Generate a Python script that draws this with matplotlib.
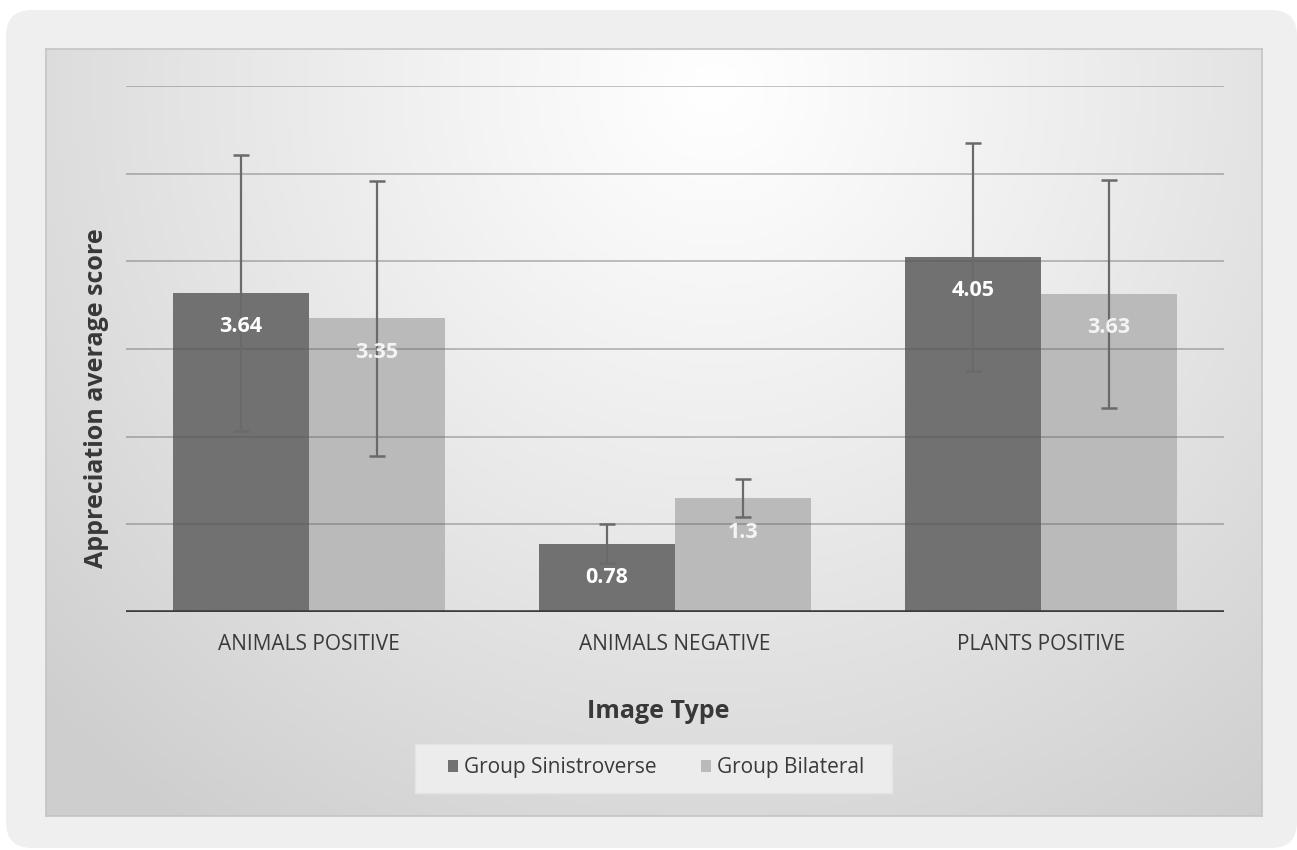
import numpy as np
import matplotlib
matplotlib.use("Agg")
import matplotlib.pyplot as plt
from matplotlib.patches import FancyBboxPatch, Rectangle

plt.rcParams['font.family'] = ['Open Sans', 'DejaVu Sans']

categories = ["ANIMALS POSITIVE", "ANIMALS NEGATIVE", "PLANTS POSITIVE"]
series_names = ["Group Sinistroverse", "Group Bilateral"]
sinistroverse = [3.64, 0.78, 4.05]
bilateral = [3.35, 1.30, 3.63]
err_sinistroverse = [1.57, 0.22, 1.30]
err_bilateral = [1.57, 0.22, 1.30]
value_labels_sin = ["3.64", "0.78", "4.05"]
value_labels_bil = ["3.35", "1.3", "3.63"]

W, H = 1297, 850
fig = plt.figure(figsize=(W / 100, H / 100), dpi=100)
fig.patch.set_facecolor('white')

def fx(px):
    return px / W

def fy(py):
    return 1 - py / H

# outer rounded background
bg = FancyBboxPatch((fx(6), fy(848)), fx(1297 - 6), (848 - 10) / H,
                    boxstyle="round,pad=0,rounding_size=0.02",
                    transform=fig.transFigure, facecolor='#efefef',
                    edgecolor='none', zorder=0, mutation_aspect=W / H)
fig.patches.append(bg)

# gradient panel
pl, pt, pr, pb = 46, 49, 1262, 816
pax = fig.add_axes([fx(pl), fy(pb), fx(pr - pl), (pb - pt) / H])
pax.set_zorder(1)
ny, nx = 200, 300
yy, xx = np.mgrid[0:ny, 0:nx]
u = xx / (nx - 1) * (pr - pl)
v = yy / (ny - 1) * (pb - pt)
cx, cy = 0.55 * (pr - pl), 0.05 * (pb - pt)
d = np.sqrt((u - cx) ** 2 + (v - cy) ** 2)
d = d / np.sqrt((pr - pl - cx) ** 2 + (pb - pt - cy) ** 2)
val = 1.0 - 0.19 * np.clip(d, 0, 1) ** 1.1
img = np.dstack([val, val, val])
pax.imshow(img, aspect='auto', extent=[0, 1, 0, 1], origin='upper')
pax.set_xlim(0, 1)
pax.set_ylim(0, 1)
pax.set_xticks([])
pax.set_yticks([])
for s in pax.spines.values():
    s.set_color('#c4c4c4')
    s.set_linewidth(1.2)

# legend background box
pax.add_patch(Rectangle(((415 - pl) / (pr - pl), (pb - 793) / (pb - pt)),
                        (892 - 415) / (pr - pl), (793 - 744) / (pb - pt),
                        transform=pax.transAxes, facecolor='#ececec',
                        edgecolor='#e4e4e4', lw=1, zorder=3))

# plot axes
al, ar, ab, at = 126, 1224, 612, 86
ax = fig.add_axes([fx(al), fy(ab), fx(ar - al), (ab - at) / H])
ax.set_zorder(2)
ax.patch.set_alpha(0)
ax.set_xlim(-0.5, 2.5)
ax.set_ylim(0, 6)

x = np.arange(len(categories))
bw = 0.372
b1 = ax.bar(x - bw / 2, sinistroverse, bw, color='#717171', zorder=2,
            label=series_names[0])
b2 = ax.bar(x + bw / 2, bilateral, bw, color='#bababa', zorder=2,
            label=series_names[1])

for gy in range(1, 7):
    ax.axhline(gy, color='#555555', alpha=0.38, lw=1.3, zorder=3)

ax.errorbar(x - bw / 2, sinistroverse, yerr=err_sinistroverse, fmt='none',
            ecolor='#6a6a6a', elinewidth=1.6, capsize=6, capthick=1.8, zorder=4)
ax.errorbar(x + bw / 2, bilateral, yerr=err_bilateral, fmt='none',
            ecolor='#6a6a6a', elinewidth=1.6, capsize=6, capthick=1.8, zorder=4)

ax.axhline(0, color='#3c3c3c', lw=2.6, zorder=5, xmax=1.0)

for xi, v_, t in zip(x - bw / 2, sinistroverse, value_labels_sin):
    ax.annotate(t, (xi, v_), xytext=(0, -24.5), textcoords='offset points',
                ha='center', va='center', color='white', fontsize=15.5,
                fontweight='bold', zorder=6)
for xi, v_, t in zip(x + bw / 2, bilateral, value_labels_bil):
    ax.annotate(t, (xi, v_), xytext=(0, -24.5), textcoords='offset points',
                ha='center', va='center', color='#f4f4f4', fontsize=15.5,
                fontweight='bold', zorder=6)

ax.set_xticks(x)
ax.set_xticklabels(categories, fontsize=15, color='#3a3a3a', fontweight='medium')
ax.tick_params(axis='x', length=0, pad=16)
ax.set_yticks([])
for s in ax.spines.values():
    s.set_visible(False)

fig.text(fx(658), fy(711), "Image Type", ha='center', va='center',
         fontsize=18, fontweight='bold', color='#383838', zorder=5)
fig.text(fx(97), fy(398), "Appreciation average score", ha='center',
         va='center', rotation=90, fontsize=18, fontweight='bold',
         color='#383838', zorder=5)

leg = ax.legend(handles=[b1, b2], loc='center',
                bbox_to_anchor=((656 - al) / (ar - al), (ab - 768) / (ab - at)),
                ncol=2, frameon=False, fontsize=15, handlelength=0.5,
                handleheight=0.5, handletextpad=0.3, columnspacing=2.1,
                borderpad=0.75, borderaxespad=0)
for t in leg.get_texts():
    t.set_color('#3a3a3a')

fig.savefig("out.png", dpi=100, facecolor=fig.get_facecolor())
